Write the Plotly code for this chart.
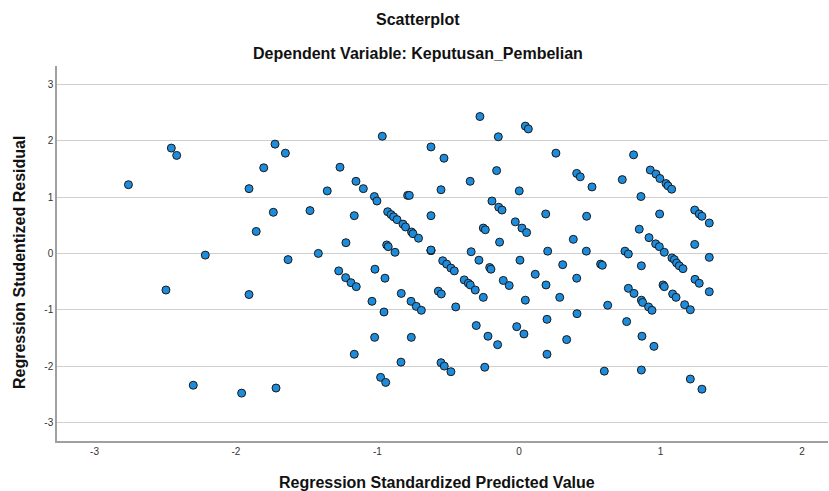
import plotly.graph_objects as go

# Regression Standardized Predicted Value (x) and Studentized Residual (y)
pred = [
    -2.76, -2.457, -2.419, -1.908, -1.804, -1.724, -1.651, -1.736, -1.857, -2.217,
    -1.632, -2.495, -1.908, -2.302, -1.960, -1.717, -1.418,
    -0.966, -0.622, -0.530, -0.276, -1.265, -1.152, -1.100, -1.355, -0.551,
    -0.345, -1.022, -1.004, -0.787, -0.775, -1.477, -1.164, -0.622,
    -0.928, -0.904, -0.886, -0.862, -0.820, -0.802, -0.759, -0.749, -0.710,
    -1.223, -0.935, -0.924, -0.876, -0.622, -0.622, -0.622, -0.338,
    -0.539, -0.511, -0.481, -0.457,
    -1.274, -1.225, -1.187, -1.150, -1.018, -0.947, -0.832, -0.763, -0.726, -0.690,
    -1.039, -0.954, -0.387, -0.358, -0.344, -0.309, -0.570, -0.549, -0.447, -0.302,
    -1.020, -0.761, -1.164, -0.834, -0.551, -0.528, -0.481, -0.978, -0.942, -0.283,
    0.045, 0.066, -0.146, 0.261, 0.810, -0.158, 0.002, 0.408, 0.433, 0.516, 0.730,
    0.928, 0.968, 0.996, 1.039, 1.053, 1.079,
    0.862, -0.191, -0.143, -0.120, 0.189, 0.478, 0.994, -0.026, 0.021, 0.054,
    -0.252, -0.238, -0.137, 0.384, 0.850, 0.919, 0.966, 0.992, 1.027,
    0.203, 0.476, 0.749, 0.773, 0.007,
    -0.207, -0.198, 0.309, 0.577, 0.589, 0.865, 0.115, 0.408, -0.111, -0.069,
    0.191, -0.252, 0.045, 0.288, 0.773, 0.813, 0.865, 0.874, 0.916, 0.940,
    0.627, -0.219, -0.151, -0.016, 0.035, 0.198, 0.410, 0.337, 0.198, 0.761,
    0.869, 0.954, -0.242, 0.603, 0.865,
    1.242, 1.274, 1.293, 1.345, 1.081, 1.098, 1.242, 1.345, 1.114, 1.133, 1.159,
    1.244, 1.274, 1.345, 1.018, 1.027, 1.086, 1.110, 1.171, 1.211, 1.211, 1.293,
]
resid = [
    1.22, 1.87, 1.74, 1.15, 1.52, 1.94, 1.78, 0.73, 0.39, -0.03,
    -0.11, -0.65, -0.73, -2.34, -2.48, -2.39, 0.00,
    2.08, 1.89, 1.69, 2.43, 1.53, 1.28, 1.15, 1.11, 1.13,
    1.28, 1.01, 0.93, 1.03, 1.03, 0.76, 0.67, 0.67,
    0.74, 0.69, 0.65, 0.60, 0.52, 0.47, 0.38, 0.35, 0.27,
    0.19, 0.15, 0.12, 0.02, 0.05, 0.05, 0.06, 0.03,
    -0.13, -0.19, -0.26, -0.31,
    -0.31, -0.43, -0.52, -0.59, -0.28, -0.44, -0.71, -0.85, -0.94, -1.01,
    -0.85, -1.04, -0.47, -0.53, -0.56, -0.65, -0.67, -0.72, -0.95, -1.28,
    -1.49, -1.49, -1.79, -1.93, -1.94, -2.00, -2.10, -2.20, -2.29, -0.12,
    2.26, 2.21, 2.07, 1.78, 1.75, 1.47, 1.11, 1.42, 1.36, 1.18, 1.31,
    1.48, 1.41, 1.33, 1.24, 1.20, 1.14,
    1.01, 0.93, 0.82, 0.77, 0.70, 0.66, 0.70, 0.56, 0.45, 0.37,
    0.45, 0.42, 0.20, 0.25, 0.43, 0.28, 0.17, 0.12, 0.02,
    0.04, 0.04, 0.04, -0.01, -0.12,
    -0.25, -0.28, -0.20, -0.19, -0.21, -0.22, -0.37, -0.44, -0.48, -0.57,
    -0.56, -0.78, -0.83, -0.78, -0.62, -0.71, -0.83, -0.87, -0.95, -1.01,
    -0.92, -1.47, -1.62, -1.30, -1.43, -1.17, -1.07, -1.53, -1.79, -1.21,
    -1.47, -1.65, -2.02, -2.09, -2.07,
    0.77, 0.70, 0.66, 0.54, -0.08, -0.11, 0.16, -0.07, -0.17, -0.22, -0.27,
    -0.46, -0.53, -0.68, -0.56, -0.59, -0.72, -0.78, -0.91, -1.00, -2.23, -2.41,
]

x_ticks = [-3, -2, -1, 0, 1, 2]
y_ticks = [-3, -2, -1, 0, 1, 2, 3]

FONT = "Arial, Liberation Sans, sans-serif"
W, H = 829, 491
L, R, T, B = 57, 1, 66, 50
pw, ph = W - L - R, H - T - B


def px(xp):
    return (xp - L) / pw


def py(yp):
    return 1 - (yp - T) / ph


fig = go.Figure()
fig.add_trace(go.Scatter(
    x=pred, y=resid, mode="markers",
    marker=dict(size=8, color="#1E8CDC", line=dict(color="#1a1a1a", width=1)),
    showlegend=False, hoverinfo="x+y",
))

title_font = dict(family=FONT, size=16, color="#111111")

fig.update_layout(
    width=W, height=H,
    margin=dict(l=L, r=R, t=T, b=B, autoexpand=False),
    paper_bgcolor="white", plot_bgcolor="white",
    font=dict(family=FONT, color="#222222", size=11),
    xaxis=dict(
        range=[-3.265, 2.184], tickvals=x_ticks, ticktext=[str(v) for v in x_ticks],
        showgrid=False, zeroline=False, showline=True, linecolor="#a0a0a0", linewidth=1.5,
        ticks="", tickfont=dict(size=10, color="#333333"), automargin=False,
    ),
    yaxis=dict(
        range=[-3.33, 3.327], tickvals=y_ticks, ticktext=[str(v) for v in y_ticks],
        showgrid=True, gridcolor="#cfcfcf", gridwidth=1, zeroline=False,
        showline=True, linecolor="#a0a0a0", linewidth=1.5,
        ticks="", tickfont=dict(size=10, color="#333333"), automargin=False,
    ),
    annotations=[
        dict(text="<b>Scatterplot</b>", x=px(418), y=py(20), xref="paper", yref="paper",
             xanchor="center", yanchor="middle", showarrow=False, font=title_font),
        dict(text="<b>Dependent Variable: Keputusan_Pembelian</b>", x=px(418), y=py(53),
             xref="paper", yref="paper", xanchor="center", yanchor="middle",
             showarrow=False, font=title_font),
        dict(text="<b>Regression Standardized Predicted Value</b>", x=px(437), y=py(482),
             xref="paper", yref="paper", xanchor="center", yanchor="middle",
             showarrow=False, font=title_font),
        dict(text="<b>Regression Studentized Residual</b>", x=px(19), y=py(263),
             xref="paper", yref="paper", xanchor="center", yanchor="middle",
             textangle=-90, showarrow=False, font=title_font),
    ],
)

fig.write_html(
    "out.html",
    config={"displayModeBar": False},
    post_script="document.body.style.margin='0';document.body.style.overflow='hidden';",
)
